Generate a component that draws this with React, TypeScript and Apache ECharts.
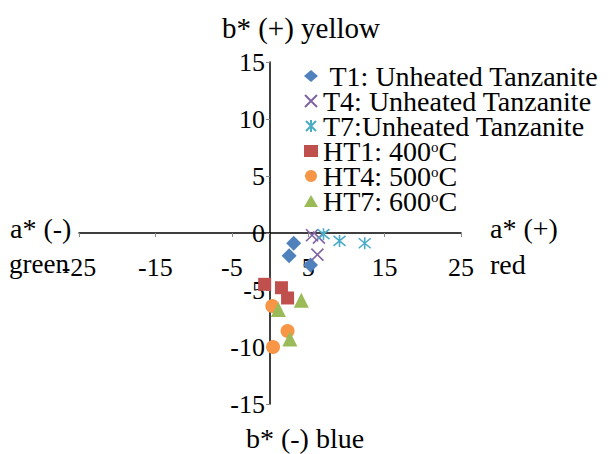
import React, { useEffect, useRef } from "react";
import * as echarts from "echarts";

const seriesNames = [
  " T1: Unheated Tanzanite",
  "T4: Unheated Tanzanite",
  "T7:Unheated Tanzanite",
  "HT1: 400oC",
  "HT4: 500oC",
  "HT7: 600oC",
];
const t1 = [[3.1, -0.9], [2.5, -2.0], [5.3, -2.8]];
const t4 = [[5.5, -0.2], [6.4, -0.4], [6.2, -1.9]];
const t7 = [[7.0, -0.1], [9.1, -0.7], [12.4, -0.9]];
const ht1 = [[-0.7, -4.5], [1.5, -4.8], [2.3, -5.7]];
const ht4 = [[0.3, -6.4], [2.3, -8.6], [0.4, -10.0]];
const ht7 = [[1.1, -6.7], [4.1, -5.9], [2.6, -9.3]];
const xTickLabels = [-25, -15, -5, 5, 15, 25];
const yTicks = { min: -15, max: 15, interval: 5 };

const FONT = "Liberation Serif";
const CROSS = "path://M0,0L10,10M10,0L0,10";
const STAR = "path://M0,0L10,10M10,0L0,10M5,-1L5,11";

export default function App() {
  const ref = useRef<HTMLDivElement>(null);
  useEffect(() => {
    if (!ref.current) return;
    const chart = echarts.init(ref.current, undefined, { renderer: "svg" });
    const data = [t1, t4, t7, ht1, ht4, ht7];
    const styles: any[] = [
      { symbol: "diamond", symbolSize: 15, itemStyle: { color: "#4F81BD", opacity: 1 } },
      { symbol: CROSS, symbolSize: 12, itemStyle: { color: "transparent", borderColor: "#8064A2", borderWidth: 1.6, opacity: 1 } },
      { symbol: STAR, symbolSize: 12, itemStyle: { color: "transparent", borderColor: "#4BACC6", borderWidth: 1.6, opacity: 1 } },
      { symbol: "rect", symbolSize: 13, itemStyle: { color: "#C0504D", opacity: 1 } },
      { symbol: "circle", symbolSize: 14, itemStyle: { color: "#F79646", opacity: 1 } },
      { symbol: "triangle", symbolSize: 15, itemStyle: { color: "#9BBB59", opacity: 1 } },
    ];
    chart.setOption({
      animation: false,
      textStyle: { fontFamily: FONT },
      grid: { left: 79, right: 152, top: 62, bottom: 50 },
      legend: {
        orient: "vertical",
        left: 299,
        top: 57,
        itemGap: -3,
        itemWidth: 14,
        itemHeight: 12,
        data: seriesNames,
        formatter: (name: string) => name.replace("oC", "{sup|o}C"),
        textStyle: {
          fontFamily: FONT,
          fontSize: 28,
          color: "#000",
          lineHeight: 24,
          rich: {
            sup: { fontFamily: FONT, fontSize: 15, verticalAlign: "top", lineHeight: 24, padding: [0, 0, 8, 0], color: "#000" },
          },
        },
      },
      xAxis: {
        type: "value",
        min: -25,
        max: 25,
        interval: 5,
        splitLine: { show: false },
        axisLine: { onZero: true, lineStyle: { color: "#000", width: 1.5 } },
        axisTick: { show: true, customValues: xTickLabels, length: 4, lineStyle: { color: "#888" } },
        axisLabel: {
          customValues: xTickLabels,
          margin: -150,
          fontFamily: FONT,
          fontSize: 26,
          color: "#000",
        },
      },
      yAxis: {
        type: "value",
        min: yTicks.min,
        max: yTicks.max,
        interval: yTicks.interval,
        splitLine: { show: false },
        axisLine: { onZero: true, lineStyle: { color: "#000", width: 1.5 } },
        axisTick: { show: true, length: 4, lineStyle: { color: "#888" } },
        axisLabel: { margin: -186, fontFamily: FONT, fontSize: 26, color: "#000" },
      },
      graphic: [
        { type: "text", x: 301, y: 28, style: { text: "b* (+) yellow", fontFamily: FONT, fontSize: 29, fill: "#000", align: "center", verticalAlign: "middle" } },
        { type: "text", x: 305, y: 438, style: { text: "b* (-) blue", fontFamily: FONT, fontSize: 28, fill: "#000", align: "center", verticalAlign: "middle" } },
        { type: "text", x: 10, y: 228, style: { text: "a* (-)", fontFamily: FONT, fontSize: 28, fill: "#000", align: "left", verticalAlign: "middle" } },
        { type: "text", x: 9, y: 264, style: { text: "green", fontFamily: FONT, fontSize: 27, fill: "#000", align: "left", verticalAlign: "middle" } },
        { type: "text", x: 490, y: 228, style: { text: "a* (+)", fontFamily: FONT, fontSize: 28, fill: "#000", align: "left", verticalAlign: "middle" } },
        { type: "text", x: 490, y: 264, style: { text: "red", fontFamily: FONT, fontSize: 28, fill: "#000", align: "left", verticalAlign: "middle" } },
      ],
      series: seriesNames.map((name, i) => ({
        name,
        type: "scatter",
        data: data[i],
        ...styles[i],
      })),
    });
    return () => chart.dispose();
  }, []);
  return <div ref={ref} style={{ width: 613, height: 454, position: "absolute", left: 0, top: 0 }} />;
}
